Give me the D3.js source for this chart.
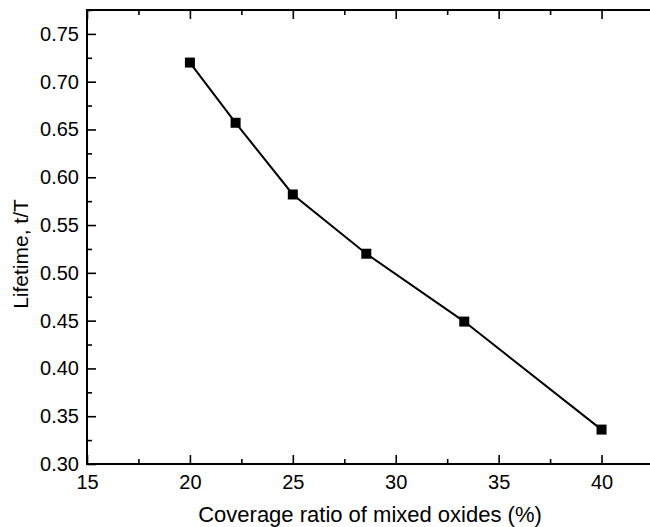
<!DOCTYPE html>
<html>
<head>
<meta charset="utf-8">
<script src="https://cdn.jsdelivr.net/npm/d3@7"></script>
<style>
  html, body { margin: 0; padding: 0; background: #fff; }
  svg { display: block; }
  text { font-family: "Liberation Sans", Arial, sans-serif; fill: #000; }
</style>
</head>
<body>
<svg id="chart" width="650" height="527"></svg>
<script>
// ---- data ----
const coverage = [20, 22.22, 25, 28.57, 33.33, 40];
const lifetime = [0.72, 0.657, 0.582, 0.52, 0.449, 0.336];
const xMajorTicks = [15, 20, 25, 30, 35, 40];
const xMinorTicks = [17.5, 22.5, 27.5, 32.5, 37.5, 42.5];
const yMajorTicks = [0.30, 0.35, 0.40, 0.45, 0.50, 0.55, 0.60, 0.65, 0.70, 0.75];
const yMinorTicks = [0.325, 0.375, 0.425, 0.475, 0.525, 0.575, 0.625, 0.675, 0.725, 0.775];
const xTitle = "Coverage ratio of mixed oxides (%)";
const yTitle = "Lifetime, t/T";

// ---- layout ----
const mLeft = 87, mRight = 653, mTop = 10, mBottom = 464;
const svg = d3.select("#chart");
const x = d3.scaleLinear().domain([15, 42.5]).range([mLeft, mRight]);
const y = d3.scaleLinear().domain([0.30, 0.775]).range([mBottom, mTop]);

const fs = 20;

function styleAxis(g) {
  g.select(".domain").remove();
  g.selectAll(".tick line").attr("stroke", "#000").attr("stroke-width", 1.6);
  g.selectAll(".tick text").attr("font-size", fs).attr("fill", "#111").attr("font-family", '"Liberation Sans", Arial, sans-serif');
}

// bottom axis
svg.append("g").attr("transform", `translate(0,${mBottom})`)
  .call(d3.axisBottom(x).tickValues(xMajorTicks).tickSize(-9).tickPadding(11).tickFormat(d3.format("d")))
  .call(styleAxis);
svg.append("g").attr("transform", `translate(0,${mBottom})`)
  .call(d3.axisBottom(x).tickValues(xMinorTicks).tickSize(-5).tickFormat(""))
  .call(styleAxis);
// top axis (ticks only)
svg.append("g").attr("transform", `translate(0,${mTop})`)
  .call(d3.axisTop(x).tickValues(xMajorTicks).tickSize(-9).tickFormat(""))
  .call(styleAxis);
svg.append("g").attr("transform", `translate(0,${mTop})`)
  .call(d3.axisTop(x).tickValues(xMinorTicks).tickSize(-5).tickFormat(""))
  .call(styleAxis);
// left axis
svg.append("g").attr("transform", `translate(${mLeft},0)`)
  .call(d3.axisLeft(y).tickValues(yMajorTicks).tickSize(-9).tickPadding(8).tickFormat(d3.format(".2f")))
  .call(styleAxis);
svg.append("g").attr("transform", `translate(${mLeft},0)`)
  .call(d3.axisLeft(y).tickValues(yMinorTicks).tickSize(-5).tickFormat(""))
  .call(styleAxis);

// frame
svg.append("rect")
  .attr("x", mLeft).attr("y", mTop)
  .attr("width", mRight - mLeft).attr("height", mBottom - mTop)
  .attr("fill", "none").attr("stroke", "#000").attr("stroke-width", 2);

// line
const pts = coverage.map((c, i) => [c, lifetime[i]]);
svg.append("path")
  .datum(pts)
  .attr("fill", "none")
  .attr("stroke", "#000")
  .attr("stroke-width", 2)
  .attr("d", d3.line().x(d => x(d[0])).y(d => y(d[1])));

// markers
const ms = 10;
svg.append("g").selectAll("rect")
  .data(pts)
  .join("rect")
  .attr("x", d => x(d[0]) - ms / 2)
  .attr("y", d => y(d[1]) - ms / 2)
  .attr("width", ms).attr("height", ms)
  .attr("fill", "#000");

// axis titles
svg.append("text")
  .attr("x", 370)
  .attr("y", 522)
  .attr("text-anchor", "middle")
  .attr("font-size", 22)
  .attr("fill", "#111")
  .text(xTitle);

svg.append("text")
  .attr("transform", `translate(28,254) rotate(-90)`)
  .attr("text-anchor", "middle")
  .attr("font-size", 21)
  .attr("fill", "#111")
  .text(yTitle);
</script>
</body>
</html>
